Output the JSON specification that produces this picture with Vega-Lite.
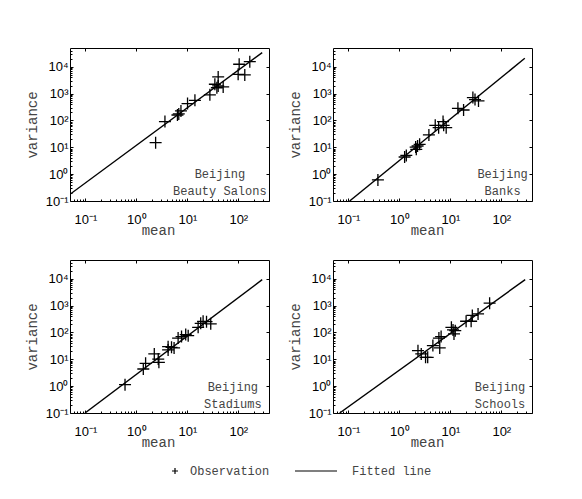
{
  "$schema": "https://vega.github.io/schema/vega-lite/v6.json",
  "background": "white",
  "padding": {"left": 24, "top": 47, "right": 10, "bottom": 10},
  "datasets": {
    "all": [
      {"panel": "Beauty Salons", "kind": "obs", "series": "Observation", "mean": 2.39, "variance": 14.9},
      {"panel": "Beauty Salons", "kind": "obs", "series": "Observation", "mean": 3.64, "variance": 90.6},
      {"panel": "Beauty Salons", "kind": "obs", "series": "Observation", "mean": 6.4, "variance": 160},
      {"panel": "Beauty Salons", "kind": "obs", "series": "Observation", "mean": 6.8, "variance": 175},
      {"panel": "Beauty Salons", "kind": "obs", "series": "Observation", "mean": 7.5, "variance": 226},
      {"panel": "Beauty Salons", "kind": "obs", "series": "Observation", "mean": 10.1, "variance": 424},
      {"panel": "Beauty Salons", "kind": "obs", "series": "Observation", "mean": 14.1, "variance": 562},
      {"panel": "Beauty Salons", "kind": "obs", "series": "Observation", "mean": 27.7, "variance": 900},
      {"panel": "Beauty Salons", "kind": "obs", "series": "Observation", "mean": 34.7, "variance": 2230},
      {"panel": "Beauty Salons", "kind": "obs", "series": "Observation", "mean": 38, "variance": 1650},
      {"panel": "Beauty Salons", "kind": "obs", "series": "Observation", "mean": 40.3, "variance": 1930},
      {"panel": "Beauty Salons", "kind": "obs", "series": "Observation", "mean": 40.3, "variance": 4170},
      {"panel": "Beauty Salons", "kind": "obs", "series": "Observation", "mean": 50.5, "variance": 1780},
      {"panel": "Beauty Salons", "kind": "obs", "series": "Observation", "mean": 104, "variance": 12400},
      {"panel": "Beauty Salons", "kind": "obs", "series": "Observation", "mean": 99.3, "variance": 5250},
      {"panel": "Beauty Salons", "kind": "obs", "series": "Observation", "mean": 134, "variance": 4950},
      {"panel": "Beauty Salons", "kind": "obs", "series": "Observation", "mean": 168, "variance": 15500},
      {"panel": "Beauty Salons", "kind": "fit", "mean": 0.05, "variance": 0.178},
      {"panel": "Beauty Salons", "kind": "fit", "mean": 294, "variance": 33700},
      {"panel": "Beauty Salons", "kind": "note", "mean": 43.5, "variance": 0.7, "note": "Beijing\nBeauty Salons"},

      {"panel": "Banks", "kind": "obs", "series": "Observation", "mean": 0.38, "variance": 0.61},
      {"panel": "Banks", "kind": "obs", "series": "Observation", "mean": 1.27, "variance": 4.36},
      {"panel": "Banks", "kind": "obs", "series": "Observation", "mean": 1.37, "variance": 5.0},
      {"panel": "Banks", "kind": "obs", "series": "Observation", "mean": 2.15, "variance": 8.4},
      {"panel": "Banks", "kind": "obs", "series": "Observation", "mean": 2.09, "variance": 10.2},
      {"panel": "Banks", "kind": "obs", "series": "Observation", "mean": 2.28, "variance": 11.2},
      {"panel": "Banks", "kind": "obs", "series": "Observation", "mean": 2.5, "variance": 12.9},
      {"panel": "Banks", "kind": "obs", "series": "Observation", "mean": 3.8, "variance": 28.9},
      {"panel": "Banks", "kind": "obs", "series": "Observation", "mean": 5.06, "variance": 66},
      {"panel": "Banks", "kind": "obs", "series": "Observation", "mean": 5.9, "variance": 53.7},
      {"panel": "Banks", "kind": "obs", "series": "Observation", "mean": 7.2, "variance": 90.6},
      {"panel": "Banks", "kind": "obs", "series": "Observation", "mean": 7.4, "variance": 66},
      {"panel": "Banks", "kind": "obs", "series": "Observation", "mean": 8.3, "variance": 53.7},
      {"panel": "Banks", "kind": "obs", "series": "Observation", "mean": 14.1, "variance": 282},
      {"panel": "Banks", "kind": "obs", "series": "Observation", "mean": 18.2, "variance": 245},
      {"panel": "Banks", "kind": "obs", "series": "Observation", "mean": 27.7, "variance": 710},
      {"panel": "Banks", "kind": "obs", "series": "Observation", "mean": 30.5, "variance": 600},
      {"panel": "Banks", "kind": "obs", "series": "Observation", "mean": 35.7, "variance": 535},
      {"panel": "Banks", "kind": "fit", "mean": 0.106, "variance": 0.1},
      {"panel": "Banks", "kind": "fit", "mean": 289, "variance": 20700},
      {"panel": "Banks", "kind": "note", "mean": 106, "variance": 0.7, "note": "Beijing\nBanks"},

      {"panel": "Stadiums", "kind": "obs", "series": "Observation", "mean": 0.6, "variance": 1.14},
      {"panel": "Stadiums", "kind": "obs", "series": "Observation", "mean": 1.37, "variance": 4.36},
      {"panel": "Stadiums", "kind": "obs", "series": "Observation", "mean": 1.52, "variance": 7.1},
      {"panel": "Stadiums", "kind": "obs", "series": "Observation", "mean": 2.25, "variance": 15.9},
      {"panel": "Stadiums", "kind": "obs", "series": "Observation", "mean": 2.69, "variance": 10.2},
      {"panel": "Stadiums", "kind": "obs", "series": "Observation", "mean": 2.77, "variance": 7.7},
      {"panel": "Stadiums", "kind": "obs", "series": "Observation", "mean": 4.2, "variance": 29.5},
      {"panel": "Stadiums", "kind": "obs", "series": "Observation", "mean": 4.2, "variance": 22.3},
      {"panel": "Stadiums", "kind": "obs", "series": "Observation", "mean": 4.9, "variance": 28},
      {"panel": "Stadiums", "kind": "obs", "series": "Observation", "mean": 5.5, "variance": 26.5},
      {"panel": "Stadiums", "kind": "obs", "series": "Observation", "mean": 6.6, "variance": 62},
      {"panel": "Stadiums", "kind": "obs", "series": "Observation", "mean": 7.7, "variance": 70},
      {"panel": "Stadiums", "kind": "obs", "series": "Observation", "mean": 9.3, "variance": 83.5},
      {"panel": "Stadiums", "kind": "obs", "series": "Observation", "mean": 10.4, "variance": 76},
      {"panel": "Stadiums", "kind": "obs", "series": "Observation", "mean": 16.3, "variance": 155},
      {"panel": "Stadiums", "kind": "obs", "series": "Observation", "mean": 18.3, "variance": 218},
      {"panel": "Stadiums", "kind": "obs", "series": "Observation", "mean": 20.4, "variance": 260},
      {"panel": "Stadiums", "kind": "obs", "series": "Observation", "mean": 23.8, "variance": 252},
      {"panel": "Stadiums", "kind": "obs", "series": "Observation", "mean": 28.8, "variance": 209},
      {"panel": "Stadiums", "kind": "fit", "mean": 0.0984, "variance": 0.1},
      {"panel": "Stadiums", "kind": "fit", "mean": 294, "variance": 9310},
      {"panel": "Stadiums", "kind": "note", "mean": 78.2, "variance": 0.66, "note": "Beijing\nStadiums"},

      {"panel": "Schools", "kind": "obs", "series": "Observation", "mean": 2.32, "variance": 21},
      {"panel": "Schools", "kind": "obs", "series": "Observation", "mean": 2.69, "variance": 15.8},
      {"panel": "Schools", "kind": "obs", "series": "Observation", "mean": 3.27, "variance": 11.9},
      {"panel": "Schools", "kind": "obs", "series": "Observation", "mean": 3.6, "variance": 11.9},
      {"panel": "Schools", "kind": "obs", "series": "Observation", "mean": 4.55, "variance": 32.4},
      {"panel": "Schools", "kind": "obs", "series": "Observation", "mean": 5.97, "variance": 62},
      {"panel": "Schools", "kind": "obs", "series": "Observation", "mean": 6.6, "variance": 70},
      {"panel": "Schools", "kind": "obs", "series": "Observation", "mean": 6.2, "variance": 26.5},
      {"panel": "Schools", "kind": "obs", "series": "Observation", "mean": 10.5, "variance": 155},
      {"panel": "Schools", "kind": "obs", "series": "Observation", "mean": 11.3, "variance": 124},
      {"panel": "Schools", "kind": "obs", "series": "Observation", "mean": 11.8, "variance": 88},
      {"panel": "Schools", "kind": "obs", "series": "Observation", "mean": 12.5, "variance": 117},
      {"panel": "Schools", "kind": "obs", "series": "Observation", "mean": 20.4, "variance": 262},
      {"panel": "Schools", "kind": "obs", "series": "Observation", "mean": 25.6, "variance": 262},
      {"panel": "Schools", "kind": "obs", "series": "Observation", "mean": 27, "variance": 430},
      {"panel": "Schools", "kind": "obs", "series": "Observation", "mean": 35, "variance": 490},
      {"panel": "Schools", "kind": "obs", "series": "Observation", "mean": 59, "variance": 1230},
      {"panel": "Schools", "kind": "fit", "mean": 0.0676, "variance": 0.1},
      {"panel": "Schools", "kind": "fit", "mean": 294, "variance": 9310},
      {"panel": "Schools", "kind": "note", "mean": 94.4, "variance": 0.66, "note": "Beijing\nSchools"}
    ]
  },
  "data": {"name": "all"},
  "columns": 2,
  "spacing": {"row": 59, "column": 64},
  "bounds": "flush",
  "concat": [
    {
      "transform": [{"filter": "datum.panel == 'Beauty Salons'"}],
      "width": 199, "height": 153,
      "resolve": {"axis": {"x": "independent", "y": "independent"}},
      "encoding": {
        "x": {"field": "mean", "type": "quantitative", "scale": {"type": "log", "domain": [0.05, 400], "nice": false},
          "axis": {"orient": "bottom", "title": "mean", "values": [0.1, 1, 10, 100], "labelPadding": 15, "titlePadding": -3, "titleX": 88,
            "labelExpr": "'10' + (datum.value < 0.5 ? '⁻¹' : datum.value < 5 ? '⁰' : datum.value < 50 ? '¹' : '²')"}},
        "y": {"field": "variance", "type": "quantitative", "scale": {"type": "log", "domain": [0.1, 50000], "nice": false},
          "axis": {"orient": "left", "title": "variance", "values": [0.1, 1, 10, 100, 1000, 10000], "labelPadding": 5, "titlePadding": 6,
            "labelExpr": "'10' + (datum.value < 0.5 ? '⁻¹' : datum.value < 5 ? '⁰' : datum.value < 50 ? '¹' : datum.value < 500 ? '²' : datum.value < 5000 ? '³' : '⁴')"}}
      },
      "layer": [
        {"transform": [{"filter": "datum.kind == 'fit'"}], "mark": {"type": "line", "color": "black", "strokeWidth": 1.4, "clip": true},
         "encoding": {
           "x": {"field": "mean", "type": "quantitative", "scale": {"type": "log", "domain": [0.05, 400], "nice": false},
             "axis": {"orient": "bottom", "title": null, "labels": false, "tickSize": -2, "values": [0.06, 0.07, 0.08, 0.09, 0.2, 0.3, 0.4, 0.5, 0.6, 0.7, 0.8, 0.9, 2, 3, 4, 5, 6, 7, 8, 9, 20, 30, 40, 50, 60, 70, 80, 90, 200, 300]}},
           "y": {"field": "variance", "type": "quantitative", "scale": {"type": "log", "domain": [0.1, 50000], "nice": false},
             "axis": {"orient": "left", "title": null, "labels": false, "tickSize": -2, "values": [0.2, 0.3, 0.4, 0.5, 0.6, 0.7, 0.8, 0.9, 2, 3, 4, 5, 6, 7, 8, 9, 20, 30, 40, 50, 60, 70, 80, 90, 200, 300, 400, 500, 600, 700, 800, 900, 2000, 3000, 4000, 5000, 6000, 7000, 8000, 9000, 20000, 30000, 40000]}}}},
        {"transform": [{"filter": "datum.kind == 'obs'"}],
         "mark": {"type": "point", "filled": false, "color": "black", "size": 144, "strokeWidth": 1.3, "opacity": 1},
         "encoding": {"shape": {"field": "series", "type": "nominal",
           "scale": {"domain": ["Observation", "Fitted line"], "range": ["M-1,0L1,0M0,-1L0,1", "M-14,0L0,0"]},
           "legend": {"orient": "none", "legendX": 99, "legendY": 417, "direction": "horizontal", "title": null,
             "symbolSize": 36, "symbolStrokeColor": "black", "symbolStrokeWidth": 1.2,
             "labelFont": "Liberation Mono", "labelFontSize": 12, "labelColor": "#444", "labelOffset": 9, "columnPadding": 22}}}},
        {"transform": [{"filter": "datum.kind == 'note'"}],
         "mark": {"type": "text", "align": "center", "baseline": "alphabetic", "lineBreak": "\n", "lineHeight": 17, "font": "Liberation Mono", "fontSize": 12, "color": "#444"},
         "encoding": {"text": {"field": "note"},
           "x": {"field": "mean", "type": "quantitative", "scale": {"type": "log", "domain": [0.05, 400], "nice": false},
             "axis": {"orient": "top", "title": null, "labels": false, "values": [0.1, 1, 10, 100]}},
           "y": {"field": "variance", "type": "quantitative", "scale": {"type": "log", "domain": [0.1, 50000], "nice": false},
             "axis": {"orient": "right", "title": null, "labels": false, "values": [0.1, 1, 10, 100, 1000, 10000]}}}}
      ]
    },
    {
      "transform": [{"filter": "datum.panel == 'Banks'"}],
      "width": 199, "height": 153,
      "resolve": {"axis": {"x": "independent", "y": "independent"}},
      "encoding": {
        "x": {"field": "mean", "type": "quantitative", "scale": {"type": "log", "domain": [0.05, 400], "nice": false},
          "axis": {"orient": "bottom", "title": "mean", "values": [0.1, 1, 10, 100], "labelPadding": 15, "titlePadding": -3, "titleX": 94,
            "labelExpr": "'10' + (datum.value < 0.5 ? '⁻¹' : datum.value < 5 ? '⁰' : datum.value < 50 ? '¹' : '²')"}},
        "y": {"field": "variance", "type": "quantitative", "scale": {"type": "log", "domain": [0.1, 50000], "nice": false},
          "axis": {"orient": "left", "title": "variance", "values": [0.1, 1, 10, 100, 1000, 10000], "labelPadding": 5, "titlePadding": 6,
            "labelExpr": "'10' + (datum.value < 0.5 ? '⁻¹' : datum.value < 5 ? '⁰' : datum.value < 50 ? '¹' : datum.value < 500 ? '²' : datum.value < 5000 ? '³' : '⁴')"}}
      },
      "layer": [
        {"transform": [{"filter": "datum.kind == 'fit'"}], "mark": {"type": "line", "color": "black", "strokeWidth": 1.4, "clip": true},
         "encoding": {
           "x": {"field": "mean", "type": "quantitative", "scale": {"type": "log", "domain": [0.05, 400], "nice": false},
             "axis": {"orient": "bottom", "title": null, "labels": false, "tickSize": -2, "values": [0.06, 0.07, 0.08, 0.09, 0.2, 0.3, 0.4, 0.5, 0.6, 0.7, 0.8, 0.9, 2, 3, 4, 5, 6, 7, 8, 9, 20, 30, 40, 50, 60, 70, 80, 90, 200, 300]}},
           "y": {"field": "variance", "type": "quantitative", "scale": {"type": "log", "domain": [0.1, 50000], "nice": false},
             "axis": {"orient": "left", "title": null, "labels": false, "tickSize": -2, "values": [0.2, 0.3, 0.4, 0.5, 0.6, 0.7, 0.8, 0.9, 2, 3, 4, 5, 6, 7, 8, 9, 20, 30, 40, 50, 60, 70, 80, 90, 200, 300, 400, 500, 600, 700, 800, 900, 2000, 3000, 4000, 5000, 6000, 7000, 8000, 9000, 20000, 30000, 40000]}}}},
        {"transform": [{"filter": "datum.kind == 'obs'"}],
         "mark": {"type": "point", "filled": false, "color": "black", "size": 144, "strokeWidth": 1.3, "opacity": 1},
         "encoding": {"shape": {"field": "series", "type": "nominal",
           "scale": {"domain": ["Observation", "Fitted line"], "range": ["M-1,0L1,0M0,-1L0,1", "M-14,0L0,0"]}}}},
        {"transform": [{"filter": "datum.kind == 'note'"}],
         "mark": {"type": "text", "align": "center", "baseline": "alphabetic", "lineBreak": "\n", "lineHeight": 17, "font": "Liberation Mono", "fontSize": 12, "color": "#444"},
         "encoding": {"text": {"field": "note"},
           "x": {"field": "mean", "type": "quantitative", "scale": {"type": "log", "domain": [0.05, 400], "nice": false},
             "axis": {"orient": "top", "title": null, "labels": false, "values": [0.1, 1, 10, 100]}},
           "y": {"field": "variance", "type": "quantitative", "scale": {"type": "log", "domain": [0.1, 50000], "nice": false},
             "axis": {"orient": "right", "title": null, "labels": false, "values": [0.1, 1, 10, 100, 1000, 10000]}}}}
      ]
    },
    {
      "transform": [{"filter": "datum.panel == 'Stadiums'"}],
      "width": 199, "height": 153,
      "resolve": {"axis": {"x": "independent", "y": "independent"}},
      "encoding": {
        "x": {"field": "mean", "type": "quantitative", "scale": {"type": "log", "domain": [0.05, 400], "nice": false},
          "axis": {"orient": "bottom", "title": "mean", "values": [0.1, 1, 10, 100], "labelPadding": 15, "titlePadding": -3, "titleX": 88,
            "labelExpr": "'10' + (datum.value < 0.5 ? '⁻¹' : datum.value < 5 ? '⁰' : datum.value < 50 ? '¹' : '²')"}},
        "y": {"field": "variance", "type": "quantitative", "scale": {"type": "log", "domain": [0.1, 50000], "nice": false},
          "axis": {"orient": "left", "title": "variance", "values": [0.1, 1, 10, 100, 1000, 10000], "labelPadding": 5, "titlePadding": 6,
            "labelExpr": "'10' + (datum.value < 0.5 ? '⁻¹' : datum.value < 5 ? '⁰' : datum.value < 50 ? '¹' : datum.value < 500 ? '²' : datum.value < 5000 ? '³' : '⁴')"}}
      },
      "layer": [
        {"transform": [{"filter": "datum.kind == 'fit'"}], "mark": {"type": "line", "color": "black", "strokeWidth": 1.4, "clip": true},
         "encoding": {
           "x": {"field": "mean", "type": "quantitative", "scale": {"type": "log", "domain": [0.05, 400], "nice": false},
             "axis": {"orient": "bottom", "title": null, "labels": false, "tickSize": -2, "values": [0.06, 0.07, 0.08, 0.09, 0.2, 0.3, 0.4, 0.5, 0.6, 0.7, 0.8, 0.9, 2, 3, 4, 5, 6, 7, 8, 9, 20, 30, 40, 50, 60, 70, 80, 90, 200, 300]}},
           "y": {"field": "variance", "type": "quantitative", "scale": {"type": "log", "domain": [0.1, 50000], "nice": false},
             "axis": {"orient": "left", "title": null, "labels": false, "tickSize": -2, "values": [0.2, 0.3, 0.4, 0.5, 0.6, 0.7, 0.8, 0.9, 2, 3, 4, 5, 6, 7, 8, 9, 20, 30, 40, 50, 60, 70, 80, 90, 200, 300, 400, 500, 600, 700, 800, 900, 2000, 3000, 4000, 5000, 6000, 7000, 8000, 9000, 20000, 30000, 40000]}}}},
        {"transform": [{"filter": "datum.kind == 'obs'"}],
         "mark": {"type": "point", "filled": false, "color": "black", "size": 144, "strokeWidth": 1.3, "opacity": 1},
         "encoding": {"shape": {"field": "series", "type": "nominal",
           "scale": {"domain": ["Observation", "Fitted line"], "range": ["M-1,0L1,0M0,-1L0,1", "M-14,0L0,0"]}}}},
        {"transform": [{"filter": "datum.kind == 'note'"}],
         "mark": {"type": "text", "align": "center", "baseline": "alphabetic", "lineBreak": "\n", "lineHeight": 17, "font": "Liberation Mono", "fontSize": 12, "color": "#444"},
         "encoding": {"text": {"field": "note"},
           "x": {"field": "mean", "type": "quantitative", "scale": {"type": "log", "domain": [0.05, 400], "nice": false},
             "axis": {"orient": "top", "title": null, "labels": false, "values": [0.1, 1, 10, 100]}},
           "y": {"field": "variance", "type": "quantitative", "scale": {"type": "log", "domain": [0.1, 50000], "nice": false},
             "axis": {"orient": "right", "title": null, "labels": false, "values": [0.1, 1, 10, 100, 1000, 10000]}}}}
      ]
    },
    {
      "transform": [{"filter": "datum.panel == 'Schools'"}],
      "width": 199, "height": 153,
      "resolve": {"axis": {"x": "independent", "y": "independent"}},
      "encoding": {
        "x": {"field": "mean", "type": "quantitative", "scale": {"type": "log", "domain": [0.05, 400], "nice": false},
          "axis": {"orient": "bottom", "title": "mean", "values": [0.1, 1, 10, 100], "labelPadding": 15, "titlePadding": -3, "titleX": 94,
            "labelExpr": "'10' + (datum.value < 0.5 ? '⁻¹' : datum.value < 5 ? '⁰' : datum.value < 50 ? '¹' : '²')"}},
        "y": {"field": "variance", "type": "quantitative", "scale": {"type": "log", "domain": [0.1, 50000], "nice": false},
          "axis": {"orient": "left", "title": "variance", "values": [0.1, 1, 10, 100, 1000, 10000], "labelPadding": 5, "titlePadding": 6,
            "labelExpr": "'10' + (datum.value < 0.5 ? '⁻¹' : datum.value < 5 ? '⁰' : datum.value < 50 ? '¹' : datum.value < 500 ? '²' : datum.value < 5000 ? '³' : '⁴')"}}
      },
      "layer": [
        {"transform": [{"filter": "datum.kind == 'fit'"}], "mark": {"type": "line", "color": "black", "strokeWidth": 1.4, "clip": true},
         "encoding": {
           "x": {"field": "mean", "type": "quantitative", "scale": {"type": "log", "domain": [0.05, 400], "nice": false},
             "axis": {"orient": "bottom", "title": null, "labels": false, "tickSize": -2, "values": [0.06, 0.07, 0.08, 0.09, 0.2, 0.3, 0.4, 0.5, 0.6, 0.7, 0.8, 0.9, 2, 3, 4, 5, 6, 7, 8, 9, 20, 30, 40, 50, 60, 70, 80, 90, 200, 300]}},
           "y": {"field": "variance", "type": "quantitative", "scale": {"type": "log", "domain": [0.1, 50000], "nice": false},
             "axis": {"orient": "left", "title": null, "labels": false, "tickSize": -2, "values": [0.2, 0.3, 0.4, 0.5, 0.6, 0.7, 0.8, 0.9, 2, 3, 4, 5, 6, 7, 8, 9, 20, 30, 40, 50, 60, 70, 80, 90, 200, 300, 400, 500, 600, 700, 800, 900, 2000, 3000, 4000, 5000, 6000, 7000, 8000, 9000, 20000, 30000, 40000]}}}},
        {"transform": [{"filter": "datum.kind == 'obs'"}],
         "mark": {"type": "point", "filled": false, "color": "black", "size": 144, "strokeWidth": 1.3, "opacity": 1},
         "encoding": {"shape": {"field": "series", "type": "nominal",
           "scale": {"domain": ["Observation", "Fitted line"], "range": ["M-1,0L1,0M0,-1L0,1", "M-14,0L0,0"]}}}},
        {"transform": [{"filter": "datum.kind == 'note'"}],
         "mark": {"type": "text", "align": "center", "baseline": "alphabetic", "lineBreak": "\n", "lineHeight": 17, "font": "Liberation Mono", "fontSize": 12, "color": "#444"},
         "encoding": {"text": {"field": "note"},
           "x": {"field": "mean", "type": "quantitative", "scale": {"type": "log", "domain": [0.05, 400], "nice": false},
             "axis": {"orient": "top", "title": null, "labels": false, "values": [0.1, 1, 10, 100]}},
           "y": {"field": "variance", "type": "quantitative", "scale": {"type": "log", "domain": [0.1, 50000], "nice": false},
             "axis": {"orient": "right", "title": null, "labels": false, "values": [0.1, 1, 10, 100, 1000, 10000]}}}}
      ]
    }
  ],
  "config": {
    "view": {"stroke": "black", "strokeWidth": 1},
    "axis": {"grid": false, "domain": false, "tickColor": "black", "tickSize": -3,
      "labelFont": "Liberation Sans", "labelFontSize": 13, "labelColor": "black",
      "titleFont": "Liberation Mono", "titleFontSize": 14, "titleFontWeight": "normal", "titleColor": "#444"}
  }
}
